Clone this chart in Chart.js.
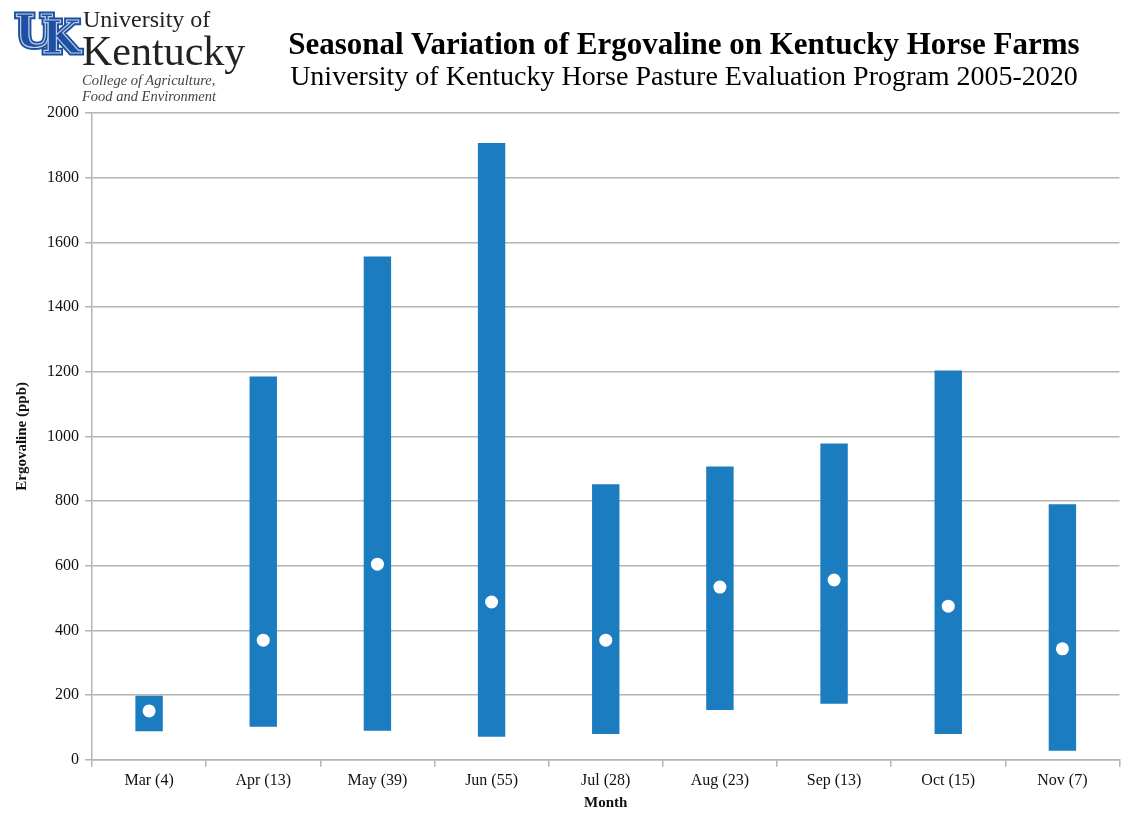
<!DOCTYPE html>
<html>
<head>
<meta charset="utf-8">
<script src="https://cdn.jsdelivr.net/npm/chart.js@4"></script>
<style>
  body { margin: 0; background: #fff; }
  #wrap { position: relative; width: 1126px; height: 814px; }
  #chart { position: absolute; left: 0; top: 0; }
  .t { position: absolute; font-family: "Liberation Serif", serif; white-space: nowrap; }
  .uk { position: absolute; font-family: "DejaVu Serif", serif; font-weight: bold; font-size: 44px; color: #1f4fa0; line-height: 44px; }
  .uk.outer { -webkit-text-stroke: 5px #1f4fa0; }
  .uk.inner { -webkit-text-stroke: 1.2px #b8cdea; }
</style>
</head>
<body>
<div id="wrap">
  <canvas id="chart" width="1126" height="814"></canvas>
  <!-- logo -->
  <div class="uk outer" style="left:15px;top:10px;">U</div>
  <div class="uk outer" style="left:42px;top:16px;">K</div>
  <div class="uk inner" style="left:15px;top:10px;">U</div>
  <div class="uk inner" style="left:42px;top:16px;">K</div>
  <div class="t" style="left:83px;top:6px;font-size:24px;color:#222;">University of</div>
  <div class="t" style="left:82px;top:27px;font-size:42px;color:#222;">Kentucky</div>
  <div class="t" style="left:82px;top:72px;font-size:14.5px;font-style:italic;color:#444;line-height:16px;">College of Agriculture,<br>Food and Environment</div>
  <!-- titles -->
  <div class="t" style="left:234px;top:26px;width:900px;text-align:center;font-size:31px;font-weight:bold;color:#000;">Seasonal Variation of Ergovaline on Kentucky Horse Farms</div>
  <div class="t" style="left:234px;top:60px;width:900px;text-align:center;font-size:28px;color:#000;">University of Kentucky Horse Pasture Evaluation Program 2005-2020</div>
</div>
<script>
// Ergovaline ranges and means by month

const months = ['Mar (4)', 'Apr (13)', 'May (39)', 'Jun (55)', 'Jul (28)', 'Aug (23)', 'Sep (13)', 'Oct (15)', 'Nov (7)'];
const lowValues = [88, 102, 90, 71, 80, 154, 173, 80, 28];
const highValues = [198, 1185, 1556, 1907, 852, 907, 978, 1204, 790];
const meanValues = [151, 370, 605, 488, 370, 534, 556, 475, 343];
const yTicks = [0, 200, 400, 600, 800, 1000, 1200, 1400, 1600, 1800, 2000];

const barColor = '#1b7cc0';
const gridColor = '#b4b4b4';
const serif = '"Liberation Serif", serif';

function createErgovalineChart() {
    const ctx = document.getElementById('chart').getContext('2d');

    new Chart(ctx, {
        type: 'bar',
        data: {
            labels: months,
            datasets: [{
                type: 'line',
                label: 'Mean',
                data: meanValues,
                showLine: false,
                pointRadius: 6.5,
                pointBackgroundColor: '#ffffff',
                pointBorderWidth: 0,
                order: 0
            }, {
                label: 'Range',
                data: lowValues.map((low, i) => [low, highValues[i]]),
                backgroundColor: barColor,
                borderWidth: 0,
                barPercentage: 0.24,
                categoryPercentage: 1,
                order: 1
            }]
        },
        options: {
            responsive: false,
            animation: false,
            layout: {
                padding: { top: 113, right: 6, bottom: 0, left: 13 }
            },
            plugins: {
                legend: { display: false },
                tooltip: { enabled: false }
            },
            scales: {
                x: {
                    offset: true,
                    grid: {
                        offset: true,
                        drawOnChartArea: false,
                        color: gridColor,
                        tickLength: 7,
                        lineWidth: 1.5
                    },
                    border: { color: gridColor, width: 1.5 },
                    ticks: {
                        color: '#111',
                        font: { family: serif, size: 16 },
                        padding: 4
                    },
                    title: {
                        display: true,
                        text: 'Month',
                        color: '#111',
                        font: { family: serif, size: 15, weight: 'bold' },
                        padding: { top: 0, bottom: 2 }
                    }
                },
                y: {
                    min: 0,
                    max: 2000,
                    afterBuildTicks: axis => {
                        axis.ticks = yTicks.map(v => ({ value: v }));
                    },
                    grid: {
                        color: gridColor,
                        lineWidth: 1.5,
                        tickLength: 7
                    },
                    border: { color: gridColor, width: 1.5 },
                    ticks: {
                        color: '#111',
                        font: { family: serif, size: 16 },
                        padding: 6,
                        callback: value => String(value)
                    },
                    title: {
                        display: true,
                        text: 'Ergovaline (ppb)',
                        color: '#111',
                        font: { family: serif, size: 15, weight: 'bold' },
                        padding: { top: 0, bottom: 10 }
                    }
                }
            }
        }
    });
}

document.addEventListener('DOMContentLoaded', createErgovalineChart);
</script>
</body>
</html>
